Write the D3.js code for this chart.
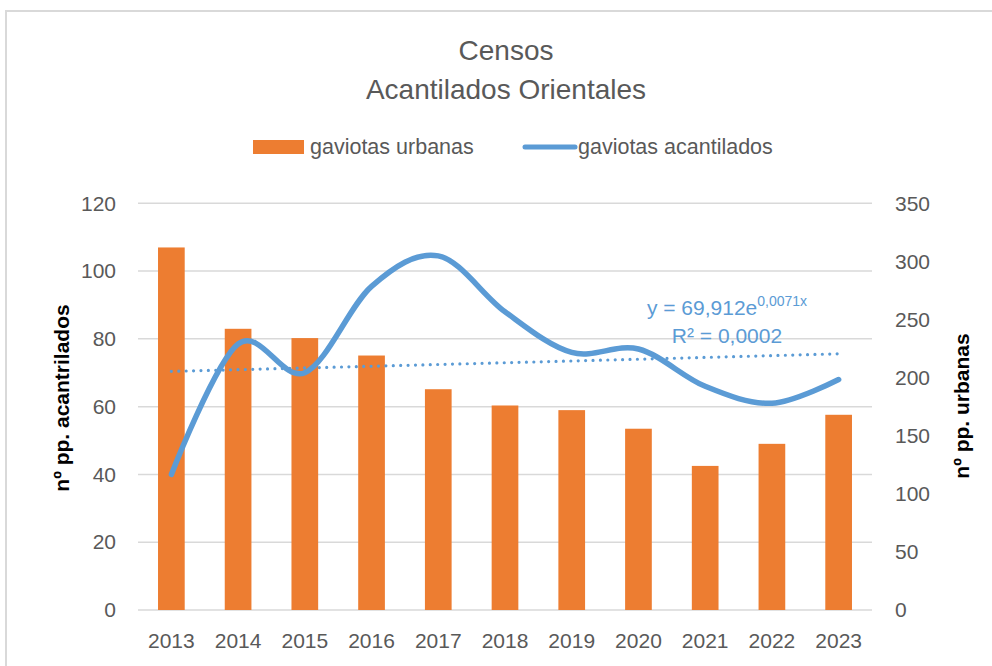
<!DOCTYPE html>
<html>
<head>
<meta charset="utf-8">
<script src="https://cdn.jsdelivr.net/npm/d3@7"></script>
<style>
  body { margin: 0; background: #fff; }
  text { font-family: "Liberation Sans", Arial, sans-serif; }
</style>
</head>
<body>
<svg id="chart" width="992" height="666"></svg>
<script>
// data
const years = ['2013', '2014', '2015', '2016', '2017', '2018', '2019', '2020', '2021', '2022', '2023'];
const urbanas = [312, 242, 234, 219, 190, 176, 172, 156, 124, 143, 168];      // bars, right axis
const acantilados = [40, 78.5, 70, 95.5, 104.5, 88, 76, 77, 66, 61, 68];       // line, left axis
const leftTicks = [0, 20, 40, 60, 80, 100, 120];
const rightTicks = [0, 50, 100, 150, 200, 250, 300, 350];
// exponential trendline shown on the chart: y = 69,912e^(0,0071x)
const trendA = 69.912;
const trendB = 0.0071;

const orange = '#ED7D31';
const blue = '#5B9BD5';
const grey = '#595959';
const grid = '#D9D9D9';

const plotLeft = 138, plotRight = 872, plotTop = 203.3, plotBottom = 610;

const svg = d3.select('#chart');

// outer chart border
svg.append('rect')
  .attr('x', 6).attr('y', 11)
  .attr('width', 1000).attr('height', 700)
  .attr('fill', 'none')
  .attr('stroke', grid)
  .attr('stroke-width', 2);

const x = d3.scaleBand()
  .domain(years)
  .range([plotLeft, plotRight])
  .paddingInner(0.6)
  .paddingOuter(0.3);
const cx = d => x(d) + x.bandwidth() / 2;

const yL = d3.scaleLinear().domain([0, 120]).range([plotBottom, plotTop]);
const yR = d3.scaleLinear().domain([0, 350]).range([plotBottom, plotTop]);

// gridlines
svg.append('g')
  .selectAll('line')
  .data(leftTicks)
  .enter().append('line')
    .attr('x1', plotLeft).attr('x2', plotRight)
    .attr('y1', d => yL(d)).attr('y2', d => yL(d))
    .attr('stroke', grid)
    .attr('stroke-width', 1.5);

// bars (right axis)
svg.append('g')
  .selectAll('rect')
  .data(urbanas)
  .enter().append('rect')
    .attr('x', (d, i) => x(years[i]))
    .attr('width', x.bandwidth())
    .attr('y', d => yR(d))
    .attr('height', d => plotBottom - yR(d))
    .attr('fill', orange);

// trendline (dotted)
const trend = years.map((yr, i) => trendA * Math.exp(trendB * (i + 1)));
svg.append('path')
  .datum(trend)
  .attr('d', d3.line()
    .x((d, i) => cx(years[i]))
    .y(d => yL(d)))
  .attr('fill', 'none')
  .attr('stroke', blue)
  .attr('stroke-width', 3.2)
  .attr('stroke-linecap', 'round')
  .attr('stroke-dasharray', '0 7.4');

// smoothed line (left axis)
svg.append('path')
  .datum(acantilados)
  .attr('d', d3.line()
    .x((d, i) => cx(years[i]))
    .y(d => yL(d))
    .curve(d3.curveCardinal.tension(0)))
  .attr('fill', 'none')
  .attr('stroke', blue)
  .attr('stroke-width', 5.5)
  .attr('stroke-linecap', 'round')
  .attr('stroke-linejoin', 'round');

// axes
const styleAxis = g => {
  g.select('.domain').remove();
  g.selectAll('text')
    .attr('fill', grey)
    .style('font-size', '21px')
    .style('font-family', '"Liberation Sans", Arial, sans-serif');
};

svg.append('g')
  .attr('transform', 'translate(' + plotLeft + ',0)')
  .call(d3.axisLeft(yL).tickValues(leftTicks).tickSize(0).tickPadding(22))
  .call(styleAxis);

svg.append('g')
  .attr('transform', 'translate(' + plotRight + ',0)')
  .call(d3.axisRight(yR).tickValues(rightTicks).tickSize(0).tickPadding(23))
  .call(styleAxis);

svg.append('g')
  .attr('transform', 'translate(0,' + plotBottom + ')')
  .call(d3.axisBottom(x).tickSize(0).tickPadding(23))
  .call(styleAxis);

// titles
const title = svg.append('text')
  .attr('x', 506)
  .attr('text-anchor', 'middle')
  .attr('fill', grey)
  .style('font-size', '28px');
title.append('tspan').attr('x', 506).attr('y', 60).text('Censos');
title.append('tspan').attr('x', 506).attr('y', 99).text('Acantilados Orientales');

svg.append('text')
  .attr('transform', 'translate(69,398) rotate(-90)')
  .attr('text-anchor', 'middle')
  .attr('fill', '#000')
  .style('font-size', '21px')
  .style('font-weight', 'bold')
  .text('nº pp. acantrilados');

svg.append('text')
  .attr('transform', 'translate(969,406) rotate(-90)')
  .attr('text-anchor', 'middle')
  .attr('fill', '#000')
  .style('font-size', '21px')
  .style('font-weight', 'bold')
  .text('nº pp. urbanas');

// legend
const legend = svg.append('g');
legend.append('rect')
  .attr('x', 253).attr('y', 140)
  .attr('width', 51).attr('height', 14)
  .attr('fill', orange);
legend.append('text')
  .attr('x', 310).attr('y', 154)
  .attr('fill', grey)
  .style('font-size', '21.5px')
  .text('gaviotas urbanas');
legend.append('line')
  .attr('x1', 525).attr('x2', 575)
  .attr('y1', 147).attr('y2', 147)
  .attr('stroke', blue)
  .attr('stroke-width', 5)
  .attr('stroke-linecap', 'round');
legend.append('text')
  .attr('x', 578).attr('y', 154)
  .attr('fill', grey)
  .style('font-size', '21.5px')
  .text('gaviotas acantilados');

// trendline label
const eq = svg.append('text')
  .attr('x', 727).attr('y', 315)
  .attr('text-anchor', 'middle')
  .attr('fill', blue)
  .style('font-size', '21px');
eq.append('tspan').text('y = 69,912e');
eq.append('tspan').attr('dy', -9).style('font-size', '14px').text('0,0071x');

svg.append('text')
  .attr('x', 727).attr('y', 343)
  .attr('text-anchor', 'middle')
  .attr('fill', blue)
  .style('font-size', '21px')
  .text('R² = 0,0002');
</script>
</body>
</html>
